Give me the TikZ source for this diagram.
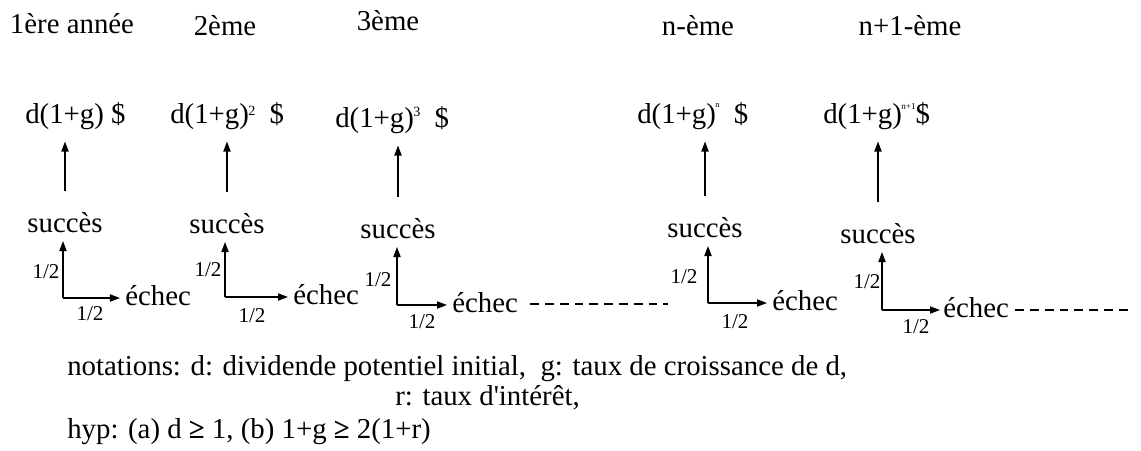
\documentclass[tikz,border=0pt]{standalone}
\usepackage{fontspec}
\setmainfont{Liberation Serif}
\usepackage{tikz}
\usetikzlibrary{arrows.meta, calc}

% raised small exponent: raise, size, text
\newcommand{\expo}[3]{\kern-0.5pt\raisebox{#1}{\fontsize{#2}{#2}\selectfont #3}}

\begin{document}
\begin{tikzpicture}[x=0.025cm, y=-0.025cm,
  txt/.style={inner sep=0pt, font=\fontsize{20.5}{22}\selectfont},
  half/.style={inner sep=0pt, font=\fontsize{15}{15}\selectfont},
  arr/.style={line width=0.9pt, -{Triangle[length=2.5mm,width=1.8mm]}},
  dashline/.style={line width=0.9pt, dash pattern=on 0.22cm off 0.15cm}]
  \useasboundingbox (0,0) rectangle (1141,450);

  % --- Year labels ---
  \node[txt, anchor=base] (t1) at (72,33) {1ère année};
  \node[txt, anchor=base] (t2) at (225,35) {2ème};
  \node[txt, anchor=base] (t3) at (388,30) {3ème};
  \node[txt, anchor=base] (tn) at (698,35) {n-ème};
  \node[txt, anchor=base] (tm) at (910,35) {n+1-ème};

  % --- Dividends ---
  \node[txt, anchor=base west] (v1) at (25,123) {d(1+g) \$};
  \node[txt, anchor=base west] (v2) at (170,123) {d(1+g)\expo{5pt}{10}{2}\ \ \$};
  \node[txt, anchor=base west] (v3) at (335,127) {d(1+g)\expo{7.5pt}{10}{3}\ \ \$};
  \node[txt, anchor=base west] (vn) at (637,123) {d(1+g)\expo{11pt}{6}{n}\ \ \$};
  \node[txt, anchor=base west] (vm) at (823,123) {d(1+g)\expo{9.5pt}{6.5}{n+1}\$};

  % --- Year 1 ---
  \node[txt, anchor=base] (s1) at (65,232) {succès};
  \coordinate (c1) at (63,298);
  \node[txt, anchor=base west] (e1) at (125,305) {échec};
  \draw[arr] ($(s1.north)+(0,-21)$) -- ($(s1.north |- v1.south)+(0,12)$);
  \draw[arr] (c1) -- ($(c1 |- s1.base)+(0,9)$);
  \draw[arr] (c1) -- ($(e1.west |- c1)+(-5,0)$);
  \node[half] (p1) at (46,272) {1/2};
  \node[half] (q1) at (90,314) {1/2};

  % --- Year 2 ---
  \node[txt, anchor=base] (s2) at (227,233) {succès};
  \coordinate (c2) at (225,297);
  \node[txt, anchor=base west] (e2) at (293,304) {échec};
  \draw[arr] ($(s2.north)+(0,-21)$) -- ($(s2.north |- v2.south)+(0,12)$);
  \draw[arr] (c2) -- ($(c2 |- s2.base)+(0,9)$);
  \draw[arr] (c2) -- ($(e2.west |- c2)+(-5,0)$);
  \node[half] (p2) at (208,270) {1/2};
  \node[half] (q2) at (252,316) {1/2};

  % --- Year 3 ---
  \node[txt, anchor=base] (s3) at (398,238) {succès};
  \coordinate (c3) at (397,305);
  \node[txt, anchor=base west] (e3) at (452,312) {échec};
  \draw[arr] ($(s3.north)+(0,-21)$) -- ($(s3.north |- v3.south)+(0,12)$);
  \draw[arr] (c3) -- ($(c3 |- s3.base)+(0,9)$);
  \draw[arr] (c3) -- ($(e3.west |- c3)+(-5,0)$);
  \node[half] (p3) at (378,280) {1/2};
  \node[half] (q3) at (422,322) {1/2};
  \coordinate (d3) at (668,304);
  \draw[dashline] ($(e3.east |- d3)+(12,0)$) -- (d3);

  % --- Year n ---
  \node[txt, anchor=base] (sn) at (705,237) {succès};
  \coordinate (cn) at (708,303);
  \node[txt, anchor=base west] (en) at (772,310) {échec};
  \draw[arr] ($(sn.north)+(0,-21)$) -- ($(sn.north |- vn.south)+(0,12)$);
  \draw[arr] (cn) -- ($(cn |- sn.base)+(0,9)$);
  \draw[arr] (cn) -- ($(en.west |- cn)+(-5,0)$);
  \node[half] (pn) at (684,277) {1/2};
  \node[half] (qn) at (735,322) {1/2};

  % --- Year n+1 ---
  \node[txt, anchor=base] (sm) at (878,243) {succès};
  \coordinate (cm) at (882,310);
  \node[txt, anchor=base west] (em) at (943,317) {échec};
  \draw[arr] ($(sm.north)+(0,-21)$) -- ($(sm.north |- vm.south)+(0,12)$);
  \draw[arr] (cm) -- ($(cm |- sm.base)+(0,9)$);
  \draw[arr] (cm) -- ($(em.west |- cm)+(-3,0)$);
  \node[half] (pm) at (867,282) {1/2};
  \node[half] (qm) at (916,327) {1/2};
  \coordinate (tail) at (1133,310);
  \draw[dashline] ($(em.east |- tail)+(6,0)$) -- (tail);

  % --- Notations ---
  \node[txt, anchor=base west] (nota) at (67,375) {notations: d: dividende potentiel initial,\ \ g: taux de croissance de d,};
  \node[txt, anchor=base west] (notr) at (395,405) {r: taux d\textquotesingle intérêt,};
  \node[txt, anchor=base west] (hyp) at (67,438) {hyp: (a) d \textbf{≥} 1, (b) 1+g \textbf{≥} 2(1+r)};
\end{tikzpicture}
\end{document}
